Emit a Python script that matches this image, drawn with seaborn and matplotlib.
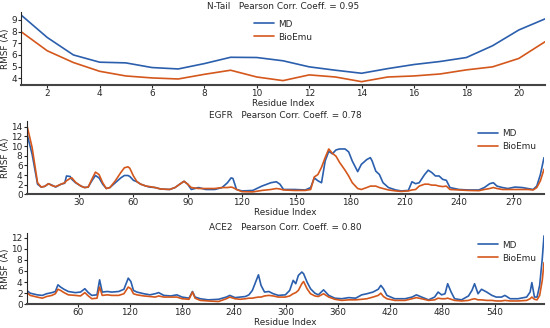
import pandas as pd
import matplotlib.pyplot as plt
import matplotlib.ticker as plticker
import seaborn as sb

# N-Tail RMSF per residue
ntail_res = list(range(1, 22))
ntail_md = [9.43, 7.5, 6.0, 5.38, 5.32, 4.92, 4.8, 5.26, 5.8, 5.78, 5.5,
            4.98, 4.69, 4.43, 4.83, 5.18, 5.44, 5.78, 6.79, 8.14, 9.09]
ntail_bioemu = [8.0, 6.36, 5.35, 4.6, 4.2, 4.03, 3.94, 4.34, 4.69, 4.11, 3.8,
                4.29, 4.11, 3.71, 4.11, 4.2, 4.37, 4.72, 4.98, 5.7, 7.13]

# EGFR (at selected residues)
egfr_res = [1, 4, 7, 9, 11, 13, 15, 17, 20, 22, 23, 25, 26, 28, 31, 33, 35, 37, 39,
            41, 43, 45, 47, 50, 53, 55, 57, 58, 60, 62, 64, 67, 69, 72, 75, 80, 83,
            86, 88, 90, 92, 96, 100, 105, 109, 112, 114, 115, 117, 120, 126, 131,
            136, 139, 141, 143, 149, 155, 158, 160, 162, 164, 166, 168, 170, 172,
            174, 177, 179, 181, 184, 186, 189, 191, 192, 194, 196, 198, 201, 205,
            208, 212, 214, 216, 218, 221, 223, 225, 227, 229, 231, 233, 235, 240,
            245, 251, 254, 257, 259, 261, 264, 267, 271, 275, 278, 281, 283, 285, 287]
egfr_md = [12.8, 8.3, 2.1, 1.5, 1.65, 2.2, 1.9, 1.5, 2.1, 2.3, 3.8, 3.7, 3.1, 2.4,
           1.7, 1.4, 1.5, 2.8, 3.9, 3.4, 2.1, 1.2, 1.4, 2.4, 3.4, 3.9, 3.9, 3.7, 2.9,
           2.6, 2.1, 1.7, 1.5, 1.4, 1.1, 1.0, 1.4, 2.2, 2.7, 2.1, 1.0, 1.4, 1.0, 1.0,
           1.4, 2.4, 3.4, 3.3, 1.0, 0.7, 0.8, 1.7, 2.4, 2.6, 2.1, 1.0, 1.0, 0.9, 1.4,
           3.4, 2.8, 2.4, 6.9, 8.9, 8.4, 9.2, 9.4, 9.4, 8.8, 6.9, 4.7, 6.2, 7.2, 7.6,
           6.9, 4.8, 4.1, 2.4, 1.4, 0.9, 0.7, 0.8, 2.6, 2.2, 2.4, 4.1, 5.0, 4.5, 3.8,
           3.8, 3.1, 2.9, 1.4, 1.0, 0.9, 0.9, 1.4, 2.2, 2.4, 1.7, 1.4, 1.2, 1.5, 1.4,
           1.2, 1.0, 1.7, 4.1, 7.6]
egfr_bioemu = [14.5, 9.7, 2.4, 1.5, 1.65, 2.2, 1.8, 1.6, 2.1, 2.4, 2.8, 3.3, 3.4,
               2.5, 1.7, 1.4, 1.5, 3.1, 4.6, 4.1, 2.4, 1.2, 1.4, 2.8, 4.5, 5.5, 5.7,
               5.4, 3.8, 2.6, 2.1, 1.7, 1.6, 1.4, 1.1, 1.0, 1.4, 2.2, 2.7, 2.1, 1.4,
               1.2, 1.2, 1.2, 1.4, 1.4, 1.5, 1.4, 1.0, 0.55, 0.5, 0.8, 1.0, 1.2, 1.1,
               0.9, 0.8, 0.8, 1.0, 3.6, 4.1, 5.6, 7.6, 9.4, 8.5, 7.9, 6.6, 5.0, 3.8,
               2.4, 1.2, 1.0, 1.4, 1.7, 1.7, 1.7, 1.4, 1.2, 0.9, 0.7, 0.6, 0.7, 0.9,
               1.0, 1.7, 2.1, 2.1, 1.9, 1.9, 1.7, 1.6, 1.7, 1.0, 0.9, 0.8, 0.75, 1.0,
               1.2, 1.4, 1.2, 1.0, 1.0, 1.0, 1.0, 1.0, 0.9, 1.4, 2.8, 5.2]

# ACE2
ace2_res = [1, 5, 13, 19, 24, 30, 34, 37, 40, 44, 49, 57, 63, 68, 72, 76, 82, 85, 88,
            94, 99, 107, 113, 118, 121, 124, 128, 136, 143, 149, 153, 159, 167, 174,
            180, 188, 192, 195, 201, 210, 222, 231, 235, 241, 247, 253, 257, 261, 264,
            268, 271, 275, 280, 285, 291, 299, 304, 308, 311, 314, 318, 320, 324, 328,
            333, 337, 343, 349, 356, 364, 372, 380, 387, 393, 400, 406, 409, 412, 416,
            425, 437, 445, 450, 456, 464, 471, 475, 479, 483, 486, 490, 494, 502, 510,
            514, 517, 521, 525, 531, 537, 542, 548, 552, 558, 567, 577, 581, 583, 586,
            589, 592, 595, 597]
ace2_md = [2.5, 2.0, 1.7, 1.6, 1.9, 2.1, 2.3, 3.5, 3.1, 2.7, 2.3, 2.1, 2.2, 2.8, 2.1,
           1.6, 1.7, 4.4, 2.2, 2.3, 2.2, 2.3, 2.7, 4.7, 4.1, 2.5, 2.2, 1.9, 1.7, 1.9,
           2.1, 1.6, 1.5, 1.7, 1.3, 1.1, 2.3, 1.3, 1.0, 0.8, 0.9, 1.3, 1.6, 1.2, 1.3,
           1.4, 1.7, 2.5, 3.7, 5.3, 3.4, 2.2, 2.3, 1.9, 1.6, 1.7, 2.5, 4.3, 3.7, 5.2,
           5.8, 5.5, 4.0, 2.8, 2.0, 1.7, 2.6, 1.6, 1.1, 1.0, 1.2, 1.1, 1.7, 1.9, 2.2,
           2.7, 3.4, 2.8, 1.6, 1.0, 1.0, 1.3, 1.7, 1.3, 0.8, 1.3, 2.2, 1.7, 1.9, 3.7,
           2.2, 1.0, 0.8, 1.5, 2.5, 3.7, 1.9, 2.7, 2.2, 1.6, 1.3, 1.3, 1.6, 1.0, 1.0,
           1.3, 2.2, 3.9, 1.3, 1.3, 3.4, 8.2, 12.3]
ace2_bioemu = [2.2, 1.6, 1.3, 1.1, 1.4, 1.6, 1.9, 2.7, 2.5, 2.1, 1.7, 1.6, 1.5, 2.1,
               1.5, 1.0, 1.1, 3.1, 1.6, 1.7, 1.6, 1.6, 1.9, 3.1, 2.8, 1.9, 1.7, 1.5,
               1.4, 1.3, 1.5, 1.3, 1.3, 1.3, 1.0, 0.9, 2.2, 1.1, 0.7, 0.6, 0.5, 1.0,
               1.3, 1.0, 0.9, 1.0, 1.1, 1.1, 1.2, 1.3, 1.3, 1.5, 1.6, 1.5, 1.3, 1.3,
               1.5, 1.9, 2.1, 2.5, 3.7, 4.1, 2.8, 1.9, 1.5, 1.4, 1.9, 1.3, 0.9, 0.7,
               0.8, 0.8, 0.9, 1.0, 1.3, 1.6, 2.0, 1.4, 1.0, 0.7, 0.7, 1.0, 1.2, 1.0,
               0.7, 0.8, 1.1, 1.0, 1.0, 1.1, 0.9, 0.7, 0.6, 0.7, 0.9, 1.0, 0.8, 0.8,
               0.7, 0.7, 0.6, 0.6, 0.7, 0.6, 0.6, 0.7, 1.0, 1.3, 0.9, 0.8, 1.6, 4.3, 7.5]

titles = ['N-Tail   Pearson Corr. Coeff. = 0.95',
          'EGFR   Pearson Corr. Coeff. = 0.78',
          'ACE2   Pearson Corr. Coeff. = 0.80']

md_color = '#2b5fad'
bio_color = '#d4571c'
fs = 6.4

sb.set_style('ticks')
plt.rcParams['font.family'] = ['DejaVu Sans']
plt.rcParams['font.size'] = fs

fig, axes = plt.subplots(3, 1, figsize=(5.5, 3.28), dpi=100)

panels = [(ntail_res, ntail_md, ntail_bioemu),
          (egfr_res, egfr_md, egfr_bioemu),
          (ace2_res, ace2_md, ace2_bioemu)]

for ax, (res, md, bio), title in zip(axes, panels, titles):
    df = pd.DataFrame({'Residue Index': res, 'MD': md, 'BioEmu': bio})
    sb.lineplot(x='Residue Index', y='MD', data=df, ax=ax, color=md_color,
                lw=1.2, label='MD')
    sb.lineplot(x='Residue Index', y='BioEmu', data=df, ax=ax, color=bio_color,
                lw=1.2, label='BioEmu')
    ax.set_xlim(res[0], res[-1])
    ax.set_title(title, fontsize=fs, pad=2)
    ax.set_ylabel('RMSF (Å)', fontsize=fs, labelpad=1)
    ax.set_xlabel('Residue Index', fontsize=fs, labelpad=0.5)
    ax.tick_params(labelsize=fs, length=2, pad=1)
    ax.spines['bottom'].set_linewidth(1.5)
    ax.spines['bottom'].set_color('#444444')
    sb.despine(ax=ax)
    ax.legend(frameon=False, fontsize=fs, handlelength=2.2, labelspacing=0.45,
              handletextpad=0.5,
              loc='upper center' if ax is axes[0] else 'upper right')

axes[0].xaxis.set_major_locator(plticker.MultipleLocator(2))
axes[0].yaxis.set_major_locator(plticker.MultipleLocator(1))

axes[1].set_ylim(bottom=0)
axes[1].xaxis.set_major_locator(plticker.MultipleLocator(30))
axes[1].yaxis.set_major_locator(plticker.MultipleLocator(2))

axes[2].set_ylim(bottom=0)
axes[2].xaxis.set_major_locator(plticker.MultipleLocator(60))
axes[2].yaxis.set_major_locator(plticker.MultipleLocator(2))

axes[0].set_position([21 / 550, 1 - 85 / 328, 524 / 550, 73.4 / 328])
axes[1].set_position([26.7 / 550, 1 - 194.3 / 328, 517.3 / 550, 73.3 / 328])
axes[2].set_position([26.7 / 550, 1 - 304.3 / 328, 517.3 / 550, 71.7 / 328])

plt.savefig('out.png', dpi=100)
